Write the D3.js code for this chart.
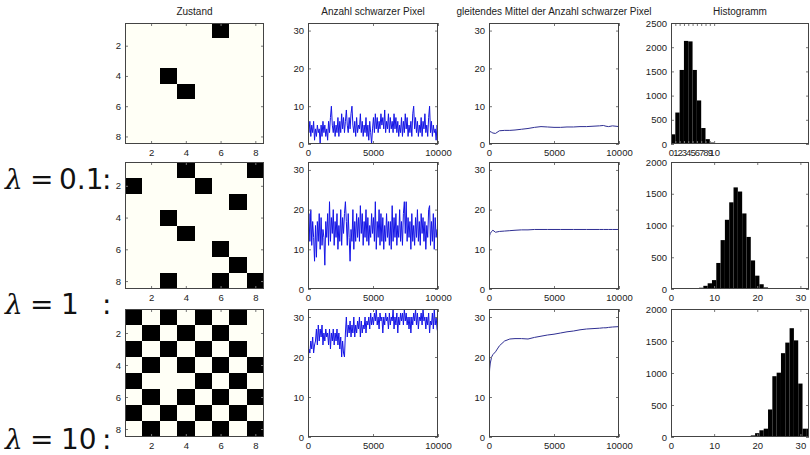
<!DOCTYPE html>
<html>
<head>
<meta charset="utf-8">
<script src="https://cdn.jsdelivr.net/npm/d3@7"></script>
<style>
  body { margin: 0; background: #fff; }
  svg text { font-family: "Liberation Sans", Arial, sans-serif; }
</style>
</head>
<body>
<div id="chart"></div>
<script>
// ---- data ----
const lambdas = ["0.1", "1", "10"];
const titles = ["Zustand", "Anzahl schwarzer Pixel", "gleitendes Mittel der Anzahl schwarzer Pixel", "Histogramm"];

// 8x8 states, "1" = black pixel
const state1 = ["00000100", "00000000", "00000000", "00100000", "00010000", "00000000", "00000000", "00000000"];
const state2 = ["00010001", "10001000", "00000010", "00100000", "00010000", "00000100", "00000010", "00100101"];
const state3 = ["10101010", "01010100", "10101010", "01010101", "10001010", "01010101", "10101010", "01010101"];

// number of black pixels, sampled evenly over 0..10000 steps
const raw1 = [7,3,6,2,5,3,6,1,4,2, 5,3,4,0,5,2,6,3,5,2, 4,1,6,3,7,10,5,3,6,2, 5,3,7,2,6,3,8,4,7,3,
  6,9,5,3,7,4,8,10,5,3, 6,2,7,3,5,4,8,3,6,2, 5,3,7,2,5,1,6,3,0,4, 7,3,8,4,7,3,6,4,8,5,
  7,4,9,3,6,4,8,3,7,4, 6,3,8,4,7,3,6,2,5,3, 7,2,6,3,8,4,7,2,5,3, 6,2,8,10,4,7,3,6,2,5,
  3,7,2,6,4,8,3,5,2,7, 10,3,6,2,5,3,4,1,5,3];
const raw2 = [10,19,12,20,11,17,13,7,16,8, 17,12,19,10,18,11,15,13,6,17, 13,19,11,22,12,18,14,20,11,17, 13,19,10,16,12,20,11,18,14,19,
  22,17,11,19,13,7,15,12,20,10, 17,12,19,13,18,12,21,14,19,11, 17,13,20,12,18,11,16,13,19,14, 18,12,22,10,17,13,20,11,19,12,
  18,10,16,12,19,13,17,11,17,10, 21,12,18,13,19,11,16,13,20,12, 17,11,19,22,14,22,12,18,13,17, 10,19,12,16,11,18,13,20,12,17,
  11,19,14,18,12,17,10,16,13,20, 21,11,17,12,19,10,18,13,15,10];
const raw3 = [18,22,21,24,22,25,21,23,24,27, 23,28,24,27,25,28,23,26,24,27, 25,26,23,27,22,26,24,27,23,26, 24,27,23,26,22,25,20,24,21,20,
  26,30,25,28,26,29,25,28,26,30, 25,28,26,29,27,30,25,29,26,28, 27,30,26,29,28,30,27,31,28,30, 28,31,29,32,28,30,27,31,29,30,
  26,30,28,31,29,30,27,31,28,30, 29,32,27,30,28,31,26,30,28,31, 29,31,28,32,29,31,28,30,27,30, 26,30,28,31,29,32,28,31,27,30,
  29,31,28,32,29,30,27,30,28,31, 26,29,28,31,27,32,28,30,27,26];
const steps = 10000;

// moving average
const maT = [0, 20, 50, 100, 200, 300, 500, 800, 1200, 1600, 2000, 2500, 3000, 3500, 4000, 4500, 5000,
  5500, 6000, 6500, 7000, 7500, 8000, 8500, 8800, 9000, 9200, 9500, 10000];
const ma1 = [1, 3.2, 3.0, 3.3, 3.1, 2.9, 2.8, 3.5, 3.6, 3.6, 3.7, 3.9, 4.1, 4.4, 4.6, 4.5, 4.4,
  4.4, 4.5, 4.5, 4.6, 4.6, 4.7, 4.8, 4.9, 4.7, 4.6, 4.8, 4.6];
const ma2 = [10, 12, 13.5, 14, 14.5, 14.8, 14.3, 14.5, 14.6, 14.7, 14.8, 14.9, 14.9, 15, 15, 15, 15,
  15, 15, 15, 15, 15, 15, 15, 15, 15, 15, 15, 15];
const ma3 = [12.5, 15, 17, 18.5, 20, 20.6, 21.3, 22.8, 24, 24.5, 24.6, 24.6, 24.5, 24.9, 25.2, 25.5, 25.7,
  26, 26.3, 26.5, 26.8, 27, 27.1, 27.2, 27.3, 27.3, 27.4, 27.5, 27.6];

// histograms: bin centres and counts
const hist1Centers = [0.5, 1.5, 2.5, 3.5, 4.5, 5.5, 6.5, 7.5, 8.5, 9.5];
const hist1Counts = [200, 650, 1530, 2130, 2120, 1530, 900, 330, 100, 30];
const hist2Centers = [6, 7, 8, 9, 10, 11, 12, 13, 14, 15, 16, 17, 18, 19, 20, 21, 22];
const hist2Counts = [10, 20, 50, 90, 140, 410, 770, 1090, 1365, 1600, 1535, 1190, 820, 450, 210, 75, 25];
const hist3Centers = [19, 20, 21, 22, 23, 24, 25, 26, 27, 28, 29, 30, 31, 32];
const hist3Counts = [25, 60, 105, 130, 430, 950, 1005, 1310, 1475, 1700, 1510, 835, 130, 130];

const stateTicks = [2, 4, 6, 8];
const timeTicks = [0, 5000, 10000];
const countTicks = [0, 10, 20, 30];
const hist1XTicks = [0, 1, 2, 3, 4, 5, 6, 7, 8, 9, 10];
const histXTicks = [0, 10, 20, 30];
const hist1YTicks = [0, 500, 1000, 1500, 2000, 2500];
const histYTicks = [0, 500, 1000, 1500, 2000];

// ---- layout ----
const W = 810, H = 455;
const rowBands = [[23, 144], [162, 289], [309, 437]];
const colBands = [[125, 264], [308, 438], [489, 619], [671, 809]];
const labelBaselines = [189, 314, 449];

const rows = [
  { state: state1, raw: raw1, ma: ma1, hc: hist1Centers, hn: hist1Counts, hMax: 2500, hxt: hist1XTicks, hyt: hist1YTicks },
  { state: state2, raw: raw2, ma: ma2, hc: hist2Centers, hn: hist2Counts, hMax: 2000, hxt: histXTicks, hyt: histYTicks },
  { state: state3, raw: raw3, ma: ma3, hc: hist3Centers, hn: hist3Counts, hMax: 2000, hxt: histXTicks, hyt: histYTicks }
];

const svg = d3.select("#chart").append("svg")
  .attr("width", W)
  .attr("height", H)
  .style("background", "#fff");

let clipId = 0;

function panel(ri, ci) {
  const [x0, x1] = colBands[ci];
  const [y0, y1] = rowBands[ri];
  const g = svg.append("g").attr("transform", `translate(${x0},${y0})`);
  const w = x1 - x0, h = y1 - y0;
  const id = "clip" + (clipId++);
  g.append("clipPath").attr("id", id).append("rect").attr("width", w).attr("height", h);
  const plot = g.append("g").attr("clip-path", `url(#${id})`);
  return { g, plot, w, h };
}

function axes(p, x, y, xTicks, yTicks) {
  const { g, w, h } = p;
  const styleAxis = (sel) => {
    sel.select(".domain").remove();
    sel.selectAll(".tick line").attr("stroke", "#777");
    sel.selectAll(".tick text").attr("font-size", "9.5px").attr("fill", "#222");
  };
  g.append("g").attr("transform", `translate(0,${h})`)
    .call(d3.axisBottom(x).tickValues(xTicks).tickSizeInner(-3).tickSizeOuter(0).tickPadding(5).tickFormat(d3.format("d")))
    .call(styleAxis);
  g.append("g")
    .call(d3.axisLeft(y).tickValues(yTicks).tickSizeInner(-3).tickSizeOuter(0).tickPadding(4).tickFormat(d3.format("d")))
    .call(styleAxis);
  // mirrored ticks on top and right
  g.append("g")
    .call(d3.axisTop(x).tickValues(xTicks).tickSizeInner(-3).tickSizeOuter(0).tickFormat(""))
    .call(styleAxis);
  g.append("g").attr("transform", `translate(${w},0)`)
    .call(d3.axisRight(y).tickValues(yTicks).tickSizeInner(-3).tickSizeOuter(0).tickFormat(""))
    .call(styleAxis);
  g.append("rect")
    .attr("x", 0.5).attr("y", 0.5)
    .attr("width", w - 1).attr("height", h - 1)
    .attr("fill", "none")
    .attr("stroke", "#444")
    .attr("stroke-width", 1);
}

rows.forEach((row, ri) => {
  // Zustand
  const p0 = panel(ri, 0);
  const sx = d3.scaleLinear().domain([0.5, 8.5]).range([0, p0.w]);
  const sy = d3.scaleLinear().domain([0.5, 8.5]).range([0, p0.h]);
  const cells = [];
  row.state.forEach((line, r) => line.split("").forEach((v, c) => cells.push({ r: r + 1, c: c + 1, v: +v })));
  p0.plot.selectAll("rect.cell").data(cells).join("rect")
    .attr("class", "cell")
    .attr("x", (d) => sx(d.c - 0.5))
    .attr("y", (d) => sy(d.r - 0.5))
    .attr("width", sx(1.5) - sx(0.5))
    .attr("height", sy(1.5) - sy(0.5))
    .attr("fill", (d) => (d.v ? "#000" : "#fffff6"))
    .attr("shape-rendering", "crispEdges");
  axes(p0, sx, sy, stateTicks, stateTicks);

  // Anzahl schwarzer Pixel
  const p1 = panel(ri, 1);
  const tx = d3.scaleLinear().domain([0, steps]).range([0, p1.w]);
  const cy = d3.scaleLinear().domain([0, 32]).range([p1.h, 0]);
  const n = row.raw.length;
  p1.plot.append("path")
    .datum(row.raw)
    .attr("fill", "none")
    .attr("stroke", "#1414e6")
    .attr("stroke-width", 1)
    .attr("d", d3.line().x((d, i) => tx(i * steps / (n - 1))).y((d) => cy(d)));
  axes(p1, tx, cy, timeTicks, countTicks);

  // gleitendes Mittel
  const p2 = panel(ri, 2);
  const tx2 = d3.scaleLinear().domain([0, steps]).range([0, p2.w]);
  const cy2 = d3.scaleLinear().domain([0, 32]).range([p2.h, 0]);
  p2.plot.append("path")
    .datum(row.ma)
    .attr("fill", "none")
    .attr("stroke", "#2e2e92")
    .attr("stroke-width", 1)
    .attr("d", d3.line().x((d, i) => tx2(maT[i])).y((d) => cy2(d)));
  axes(p2, tx2, cy2, timeTicks, countTicks);

  // Histogramm
  const p3 = panel(ri, 3);
  const hx = d3.scaleLinear().domain([0, 32]).range([0, p3.w]);
  const hy = d3.scaleLinear().domain([0, row.hMax]).range([p3.h, 0]);
  p3.plot.selectAll("rect.bar").data(row.hn).join("rect")
    .attr("class", "bar")
    .attr("x", (d, i) => hx(row.hc[i] - 0.5))
    .attr("width", hx(1) - hx(0))
    .attr("y", (d) => hy(d))
    .attr("height", (d) => hy(0) - hy(d))
    .attr("fill", "#000");
  axes(p3, hx, hy, row.hxt, row.hyt);

  // lambda label
  const lab = svg.append("text")
    .attr("y", labelBaselines[ri])
    .attr("font-size", "28px")
    .attr("fill", "#111");
  lab.append("tspan").attr("x", 5).style("font-family", "'DejaVu Serif', serif").style("font-style", "italic").text("λ");
  lab.append("tspan").attr("x", 30).style("font-family", "'DejaVu Sans', sans-serif").text("=");
  lab.append("tspan").attr("x", ri === 0 ? 59 : 61).style("font-family", "'DejaVu Sans', sans-serif").text(lambdas[ri]);
  lab.append("tspan").attr("x", 102).style("font-family", "'DejaVu Sans', sans-serif").text(":");
});

// titles above the first row
titles.forEach((t, ci) => {
  const [x0, x1] = colBands[ci];
  svg.append("text")
    .attr("x", (x0 + x1) / 2)
    .attr("y", 15)
    .attr("text-anchor", "middle")
    .attr("font-size", "10px")
    .attr("fill", "#222")
    .text(t);
});
</script>
</body>
</html>
